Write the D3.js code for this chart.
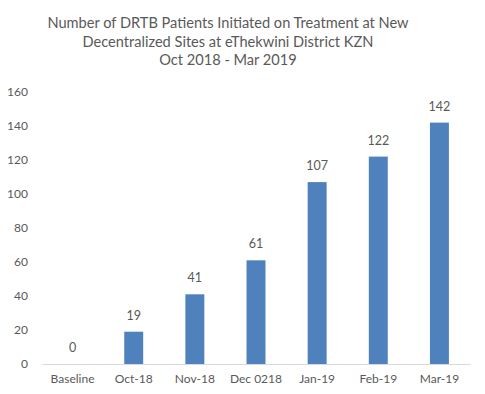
<!DOCTYPE html>
<html>
<head>
<meta charset="utf-8">
<script src="https://cdn.jsdelivr.net/npm/d3@7"></script>
<style>
  body { margin: 0; background: #fff; }
  text { font-family: "Lato", "Open Sans", sans-serif; fill: #595959; }
</style>
</head>
<body>
<div id="chart"></div>
<script>
// Data
const categories = ["Baseline", "Oct-18", "Nov-18", "Dec 0218", "Jan-19", "Feb-19", "Mar-19"];
const patients = [0, 19, 41, 61, 107, 122, 142];
const yTicks = [0, 20, 40, 60, 80, 100, 120, 140, 160];
const titleLines = [
    "Number of DRTB Patients Initiated on Treatment at New",
    "Decentralized Sites at eThekwini District KZN",
    "Oct 2018 - Mar 2019"
];

const W = 485, H = 394;
const margin = { top: 92, right: 15, bottom: 30, left: 42 };
const width = W - margin.left - margin.right;
const height = H - margin.top - margin.bottom;

const svg = d3.select("#chart")
    .append("svg")
    .attr("width", W)
    .attr("height", H);

// Title
svg.append("g")
    .selectAll("text")
    .data(titleLines)
    .join("text")
    .attr("x", 228)
    .attr("y", (d, i) => 28 + i * 18.5)
    .attr("text-anchor", "middle")
    .attr("font-size", "14.6px")
    .text(d => d);

const g = svg.append("g")
    .attr("transform", "translate(" + margin.left + "," + margin.top + ")");

const xScale = d3.scaleBand()
    .domain(categories)
    .range([0, width])
    .paddingInner(0.69)
    .paddingOuter(0.345);

const yScale = d3.scaleLinear()
    .domain([0, 160])
    .range([height, 0]);

// y axis labels (no line)
const yAxis = g.append("g")
    .call(d3.axisLeft(yScale).tickValues(yTicks).tickSize(0).tickPadding(14));
yAxis.select(".domain").remove();
yAxis.selectAll("text").attr("font-size", "12px").attr("font-family", null);

// Bars
g.selectAll("rect.bar")
    .data(patients)
    .join("rect")
    .attr("class", "bar")
    .attr("x", (d, i) => xScale(categories[i]))
    .attr("y", d => yScale(d))
    .attr("width", xScale.bandwidth())
    .attr("height", d => height - yScale(d))
    .attr("fill", "#4F81BD");

// Value labels
g.selectAll("text.val")
    .data(patients)
    .join("text")
    .attr("class", "val")
    .attr("x", (d, i) => xScale(categories[i]) + xScale.bandwidth() / 2)
    .attr("y", d => yScale(d) - 12)
    .attr("text-anchor", "middle")
    .attr("font-size", "12.5px")
    .text(d => d);

// x axis
const xAxis = g.append("g")
    .attr("transform", "translate(0," + height + ")")
    .call(d3.axisBottom(xScale).tickSize(0).tickPadding(10));
xAxis.select(".domain").attr("stroke", "#d9d9d9");
xAxis.selectAll("text").attr("font-size", "12px").attr("font-family", null);
</script>
</body>
</html>
